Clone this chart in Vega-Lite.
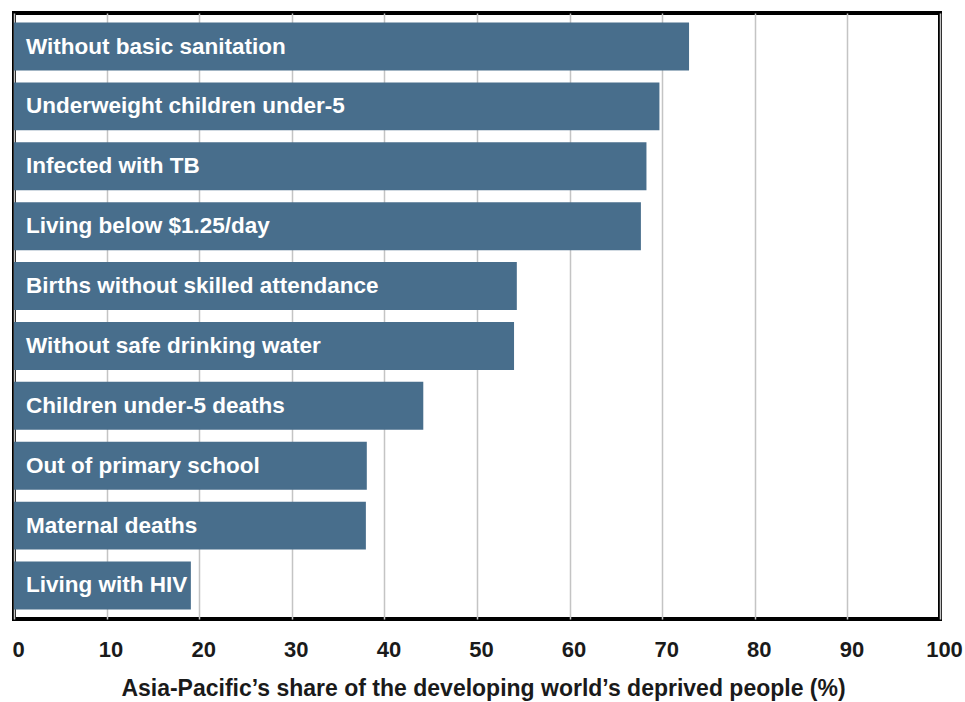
{
  "$schema": "https://vega.github.io/schema/vega-lite/v6.json",
  "width": 926,
  "height": 606,
  "autosize": {"type": "none"},
  "padding": {"left": 14, "top": 13, "right": 25, "bottom": 83},
  "background": "white",
  "config": {
    "view": {"stroke": "black", "strokeWidth": 4},
    "font": "Liberation Sans"
  },
  "data": {
    "values": [
      {"indicator": "Without basic sanitation", "share": 72.9},
      {"indicator": "Underweight children under-5", "share": 69.7},
      {"indicator": "Infected with TB", "share": 68.3},
      {"indicator": "Living below $1.25/day", "share": 67.7},
      {"indicator": "Births without skilled attendance", "share": 54.3},
      {"indicator": "Without safe drinking water", "share": 54.0},
      {"indicator": "Children under-5 deaths", "share": 44.2},
      {"indicator": "Out of primary school", "share": 38.1},
      {"indicator": "Maternal deaths", "share": 38.0},
      {"indicator": "Living with HIV", "share": 19.1}
    ]
  },
  "encoding": {
    "y": {
      "field": "indicator",
      "type": "nominal",
      "sort": null,
      "axis": null,
      "scale": {"paddingInner": 0.2, "paddingOuter": 0.16}
    }
  },
  "layer": [
    {
      "mark": {"type": "bar", "color": "#486e8c"},
      "encoding": {
        "x": {
          "field": "share",
          "type": "quantitative",
          "scale": {"domain": [0, 100], "nice": false},
          "axis": {
            "values": [0, 10, 20, 30, 40, 50, 60, 70, 80, 90, 100],
            "title": "Asia-Pacific’s share of the developing world’s deprived people (%)",
            "titleFont": "Liberation Sans",
            "titleFontWeight": "bold",
            "titleFontSize": 23,
            "titleColor": "#1a1a1a",
            "titlePadding": 17,
            "titleX": 469,
            "labelFont": "Liberation Sans",
            "labelFontWeight": "bold",
            "labelFontSize": 22,
            "labelColor": "#1a1a1a",
            "labelPadding": 20,
            "labelFlush": false,
            "labelOffset": 4,
            "ticks": false,
            "domain": false,
            "grid": true,
            "gridColor": "#c4c4c4",
            "gridWidth": 1.5
          }
        }
      }
    },
    {
      "mark": {
        "type": "text",
        "align": "left",
        "baseline": "middle",
        "dx": 12,
        "color": "white",
        "font": "Liberation Sans",
        "fontWeight": "bold",
        "fontSize": 22.5
      },
      "encoding": {
        "x": {"datum": 0, "type": "quantitative"},
        "text": {"field": "indicator"}
      }
    }
  ]
}
